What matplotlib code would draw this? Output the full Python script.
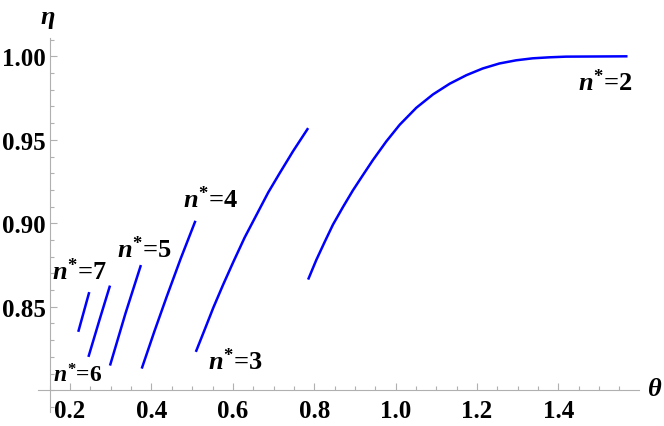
import numpy as np
import matplotlib.pyplot as plt
from matplotlib.ticker import MultipleLocator, FixedLocator

plt.rcParams['font.family'] = ['Liberation Serif', 'DejaVu Serif']
plt.rcParams['mathtext.fontset'] = 'custom'
plt.rcParams['mathtext.it'] = 'Liberation Serif:italic:bold'
plt.rcParams['mathtext.rm'] = 'Liberation Serif:bold'
plt.rcParams['mathtext.bf'] = 'Liberation Serif:bold'

# values (theta, eta) for each n*
theta_2 = [0.785, 0.805, 0.826, 0.846, 0.871, 0.895, 0.920, 0.944, 0.977, 1.010,
           1.051, 1.092, 1.133, 1.174, 1.214, 1.255, 1.296, 1.337, 1.378, 1.419, 1.570]
eta_2 = [0.8663, 0.8780, 0.8890, 0.8992, 0.9099, 0.9197, 0.9290, 0.9378, 0.9490, 0.9590,
         0.9692, 0.9772, 0.9836, 0.9887, 0.9927, 0.9957, 0.9976, 0.9988, 0.9994, 0.9998, 1.0000]

theta_3 = [0.509, 0.531, 0.552, 0.576, 0.601, 0.629, 0.658, 0.687, 0.715, 0.748, 0.785]
eta_3 = [0.8230, 0.8365, 0.8495, 0.8632, 0.8768, 0.8915, 0.9050, 0.9185, 0.9300, 0.9432, 0.9570]

theta_4 = [0.376, 0.407, 0.437, 0.472, 0.508]
eta_4 = [0.8130, 0.8352, 0.8558, 0.8790, 0.9015]

theta_5 = [0.298, 0.336, 0.374]
eta_5 = [0.8148, 0.8460, 0.8750]

theta_6 = [0.245, 0.272, 0.298]
eta_6 = [0.8200, 0.8420, 0.8627]

theta_7 = [0.220, 0.247]
eta_7 = [0.8350, 0.8588]

curves = [(theta_2, eta_2), (theta_3, eta_3), (theta_4, eta_4),
          (theta_5, eta_5), (theta_6, eta_6), (theta_7, eta_7)]

labels = ['2', '3', '4', '5', '6', '7']
label_x = [1.515, 0.605, 0.546, 0.382, 0.2196, 0.2233]
label_y = [0.985, 0.8178, 0.915, 0.8846, 0.8094, 0.8715]
label_size = [19, 19, 19, 19, 17, 19]

fig = plt.figure(figsize=(6.64, 4.27), dpi=100, facecolor='white')
ax = fig.add_axes([0.0572, 0.0328, 0.905, 0.876])

for th, et in curves:
    ax.plot(th, et, color='#0000ff', linewidth=1.8, solid_capstyle='butt',
            solid_joinstyle='round')

for lab, lx, ly, fs in zip(labels, label_x, label_y, label_size):
    ax.text(lx, ly, r'$n^{*}$=' + lab, fontsize=fs, fontweight='bold',
            ha='center', va='center')

ax.set_xlim(0.121, 1.598)
ax.set_ylim(0.787, 1.011)

# Mathematica-style axes crossing
for s in ['top', 'right']:
    ax.spines[s].set_visible(False)
ax.spines['left'].set_position(('data', 0.151))
ax.spines['bottom'].set_position(('data', 0.80))
for s in ['left', 'bottom']:
    ax.spines[s].set_color('#b0b0b0')
    ax.spines[s].set_linewidth(0.8)

ax.xaxis.set_major_locator(FixedLocator([0.2, 0.4, 0.6, 0.8, 1.0, 1.2, 1.4, 1.6]))
ax.xaxis.set_minor_locator(MultipleLocator(0.05))
ax.yaxis.set_major_locator(FixedLocator([0.85, 0.90, 0.95, 1.00]))
ax.yaxis.set_minor_locator(MultipleLocator(0.01))
ax.set_xticklabels(['0.2', '0.4', '0.6', '0.8', '1.0', '1.2', '1.4', '1.6'])
ax.set_yticklabels(['0.85', '0.90', '0.95', '1.00'])

ax.tick_params(which='both', direction='in', color='#b0b0b0', width=0.8)
ax.tick_params(which='major', length=5, labelsize=18)
ax.tick_params(which='minor', length=3)
ax.tick_params(axis='x', which='major', pad=6)
ax.tick_params(axis='y', which='major', pad=3)
for t in ax.get_xticklabels() + ax.get_yticklabels():
    t.set_fontweight('bold')

fig.text(48 / 664, 1 - 20 / 427, r'$\eta$', fontsize=19, ha='center', va='center')
fig.text(655 / 664, 1 - 390 / 427, r'$\theta$', fontsize=19, ha='center', va='center')

fig.savefig('out.png', dpi=100)
